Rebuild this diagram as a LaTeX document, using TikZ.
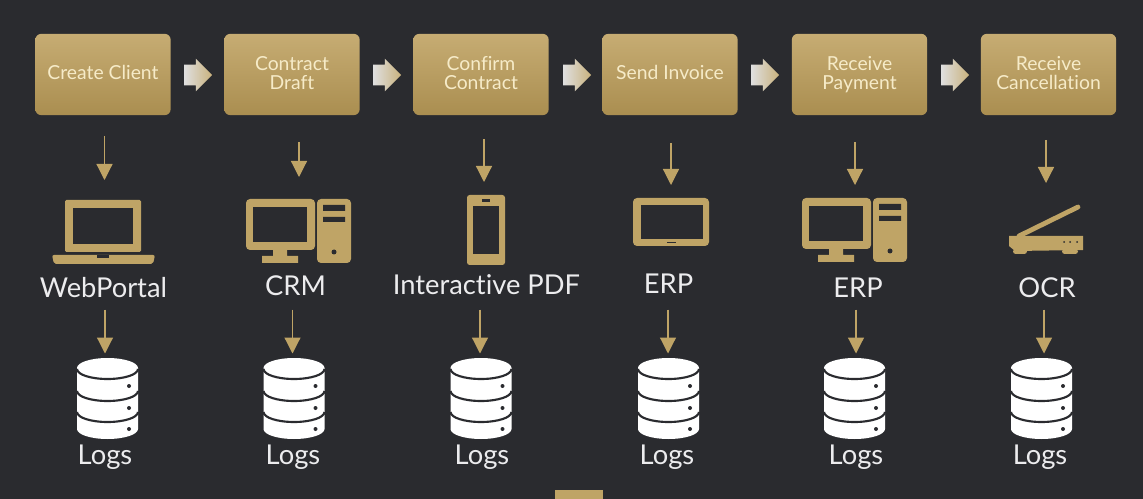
\documentclass[tikz,border=0pt]{standalone}
\usepackage{fontspec}
\setmainfont[Ligatures=NoCommon]{Lato}
\usetikzlibrary{arrows.meta,shapes.arrows}
\definecolor{bgdark}{HTML}{2A2B2F}
\definecolor{gold}{HTML}{BFA466}
\definecolor{goldtop}{HTML}{C6AC73}
\definecolor{goldlow}{HTML}{AA8E50}
\definecolor{boxtext}{HTML}{F6EBC8}
\definecolor{labeltext}{HTML}{ECECEE}
\tikzset{
	stepbox/.style={rounded corners=4.5pt, top color=goldtop, bottom color=goldlow, minimum width=101.5pt, minimum height=61pt, inner sep=0pt, align=center, text depth=2.5pt, text=boxtext, font=\fontsize{14.5}{14}\selectfont},
	blockarrow/.style={single arrow, single arrow head extend=4.5pt, minimum height=21pt, inner xsep=0pt, inner ysep=7.5pt, left color=gray!25!white, right color=gold!85!white, shading angle=90},
	toollabel/.style={text=labeltext, inner sep=0pt, font=\fontsize{20.5}{20.5}\selectfont},
	flow/.style={gold, line width=0.9pt, -{Triangle[width=12pt,length=12pt]}},
	% each icon is drawn in pixels from its upper left corner
	laptop/.pic={
		\fill[gold, rounded corners=1pt] (13,0) rectangle (89,52);
		\fill[bgdark] (21,8) rectangle (81,44);
		\fill[gold, rounded corners=1.5pt] (0,55) -- (103,55) -- (101,64) -- (2,64) -- cycle;
		\fill[bgdark] (45,55) rectangle (57,58);
	},
	desktop/.pic={
		\fill[gold, rounded corners=3pt] (0,0) rectangle (69,51);
		\fill[bgdark] (7,8) rectangle (61,43);
		\fill[gold] (27,51) rectangle (41,57) (16,57) rectangle (52,64);
		\fill[gold, rounded corners=3pt] (71,0) rectangle (105,64);
		\fill[bgdark] (77,6) rectangle (99,12) (77,18) rectangle (99,23);
		\fill[bgdark] (88,53) circle (2.5);
	},
	phone/.pic={
		\fill[gold, rounded corners=2pt] (0,0) rectangle (38,70);
		\fill[bgdark] (6,11) rectangle (32,59);
		\fill[bgdark] (15,4) rectangle (23,7);
	},
	tablet/.pic={
		\fill[gold, rounded corners=3pt] (0,0) rectangle (76,48);
		\fill[bgdark] (8,7) rectangle (70,41);
		\fill[bgdark] (34,44) rectangle (43,45.5);
	},
	scanner/.pic={
		\draw[gold, line width=3.6pt, line cap=round] (10,31) -- (69,2);
		\fill[gold] (0,31) -- (74,31) -- (74,45) -- (6,46) -- (0,41) -- cycle;
		\fill[gold, rounded corners=2pt] (4,44) rectangle (18,49) (53,44) rectangle (69,49);
		\foreach \k in {55,61,68} \fill[bgdark] (\k,37) circle (1);
	},
	logsdb/.pic={
		\fill[white] (-30.5,0) arc (180:360:30.5 and 10) -- (30.5,61) arc (0:180:30.5 and 10) -- cycle;
		\foreach \k in {0,22,43} {
			\draw[bgdark, line width=1.6pt] (-30.5,\k+1) arc (180:0:30.5 and 10);
			\fill[bgdark] (21.5,\k+18) circle (2);
		}
	},
}
\begin{document}
\begin{tikzpicture}[x=0.75pt,y=-0.75pt, line join=round]
	\fill[bgdark] (0,0) rectangle (1143,499);
	% process steps along the top
	\node[stepbox] (create)  at (103,74.5)  {Create Client};
	\node[stepbox] (draft)   at (292,74.5)  {Contract\\[0pt]Draft};
	\node[stepbox] (confirm) at (481,74.5)  {Confirm\\[0pt]Contract};
	\node[stepbox] (invoice) at (670,74.5)  {Send Invoice};
	\node[stepbox] (payment) at (859.5,74.5) {Receive\\[0pt]Payment};
	\node[stepbox] (cancel)  at (1048.5,74.5) {Receive\\[0pt]Cancellation};
	\foreach \xa/\n in {193/a,382/b,572/c,760/d,950/e}
		\node[blockarrow] (next\n) at (\xa,75) {};
	% tools
	\pic at (52,200) {laptop};
	\pic at (246,199) {desktop};
	\pic at (467,195) {phone};
	\pic at (633,198) {tablet};
	\pic at (802,198) {desktop};
	\pic at (1009,205) {scanner};
	\node[toollabel] (web) at (103.5,288) {WebPortal};
	\node[toollabel] (crm) at (295.5,286) {CRM};
	\node[toollabel] (pdf) at (486.5,285) {Interactive PDF};
	\node[toollabel] (erpa) at (668.5,284) {ERP};
	\node[toollabel] (erpb) at (858,288) {ERP};
	\node[toollabel] (ocr) at (1047,288) {OCR};
	% arrows into the tools
	\foreach \n/\xa/\ya/\yb in {a/104.5/136/180,b/299/142/177,c/484/139/182,d/671/143/185,e/855/142/185,f/1046/140/183} {
		\coordinate (in\n) at (\xa,\ya);
		\coordinate (tool\n) at (\xa,\yb);
		\draw[flow] (in\n) -- (tool\n);
	}
	% arrows into the logs
	\foreach \n/\xa in {a/105,b/292.5,c/480,d/668,e/856,f/1044} {
		\coordinate (out\n) at (\xa,309.5);
		\coordinate (db\n) at (\xa,353.5);
		\draw[flow] (out\n) -- (db\n);
	}
	% log stores
	\foreach \n/\xa/\xb in {a/107.5/105,b/294/293,c/481/482,d/668.5/667,e/854.5/856,f/1041.5/1040} {
		\pic at (\xa,368) {logsdb};
		\node[toollabel] (logs\n) at (\xb,457) {Logs};
	}
	\fill[gold] (555,490) rectangle (603,499);
\end{tikzpicture}
\end{document}
